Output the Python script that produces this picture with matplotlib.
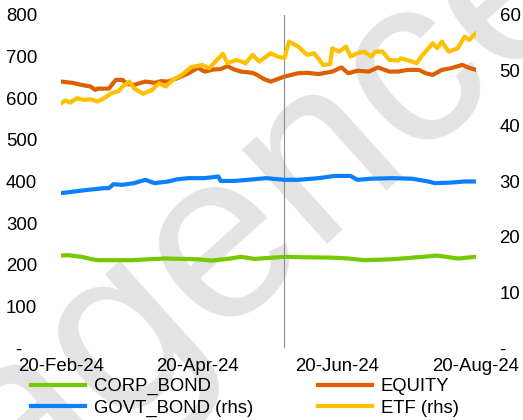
import numpy as np
import pandas as pd
import matplotlib
matplotlib.use('Agg')
import matplotlib.pyplot as plt
import matplotlib.dates as mdates

plt.rcParams['font.family'] = ['Liberation Sans', 'DejaVu Sans']

start = pd.Timestamp('2024-02-20')

# values, days counted from 20-Feb-24
equity_days = [0, 5, 9, 13, 15, 16, 21, 24, 27, 29, 32, 37, 41, 44, 47, 51, 56, 60, 63, 67, 70, 73, 76,
               79, 84, 86, 89, 92, 98, 104, 108, 113, 119, 123, 126, 130, 135, 139, 144, 148, 152, 157,
               160, 163, 167, 171, 176, 179, 182]
equity = [640, 637, 632, 628, 620, 623, 623, 644, 644, 634, 632, 640, 637, 641, 640, 648, 660, 673, 664,
          669, 670, 677, 669, 664, 661, 656, 646, 640, 652, 660, 661, 658, 664, 674, 660, 666, 664, 674,
          664, 664, 668, 668, 660, 656, 668, 672, 680, 673, 668]

corp_days = [0, 3, 9, 13, 16, 24, 31, 38, 46, 53, 60, 66, 73, 79, 85, 90, 98, 107, 119, 126, 133, 145,
             154, 165, 174, 182]
corp_bond = [222, 223, 219, 214, 211, 211, 211, 213, 215, 214, 213, 210, 214, 219, 214, 216, 219, 218,
             217, 215, 211, 213, 217, 222, 215, 219]

etf_days = [0, 2, 4, 7, 10, 13, 16, 19, 22, 25, 27, 30, 32, 36, 40, 43, 46, 49, 53, 57, 62, 65, 67, 71,
            73, 77, 81, 84, 87, 90, 92, 95, 98, 100, 104, 108, 111, 115, 118, 119, 122, 125, 127, 130,
            133, 136, 138, 141, 144, 148, 149, 154, 156, 158, 163, 165, 167, 170, 174, 177, 179, 182]
etf = [44.1, 44.6, 44.2, 45.0, 44.7, 44.8, 44.4, 45.0, 45.9, 46.2, 47.1, 48.0, 46.8, 45.8, 46.5, 47.7,
       47.1, 48.3, 49.2, 50.6, 51.0, 50.4, 51.3, 53.0, 51.3, 51.9, 51.3, 52.8, 51.6, 52.5, 53.1, 52.5,
       52.2, 55.2, 54.3, 52.8, 53.1, 51.0, 51.1, 54.0, 53.4, 54.3, 52.5, 53.1, 53.4, 52.5, 53.4, 53.4,
       51.9, 51.8, 52.2, 51.6, 51.3, 52.5, 54.9, 54.0, 55.2, 53.4, 54.0, 56.1, 55.5, 56.7]

govt_days = [0, 6, 12, 19, 21, 23, 27, 32, 37, 41, 47, 51, 56, 63, 69, 70, 76, 82, 90, 98, 104, 113,
             120, 127, 130, 136, 145, 154, 161, 164, 171, 177, 182]
govt_bond = [27.9, 28.2, 28.5, 28.8, 28.8, 29.5, 29.4, 29.7, 30.3, 29.7, 30.0, 30.4, 30.6, 30.6, 30.9,
             30.1, 30.1, 30.3, 30.6, 30.3, 30.3, 30.6, 31.0, 31.0, 30.3, 30.5, 30.6, 30.5, 30.0, 29.7,
             29.8, 30.0, 30.0]

marker_date = '2024-05-28'
xticks = ['2024-02-20', '2024-04-20', '2024-06-20', '2024-08-20']


def to_dates(days):
    return start + pd.to_timedelta(days, unit='D')


fig = plt.figure(figsize=(5.23, 4.20), dpi=100)

# watermark, behind everything
fig.text(0.51, 0.51, 'agence', fontsize=172, color='#e3e3e3', rotation=42,
         ha='center', va='center', zorder=-5)

ax = fig.add_axes([0.1166, 0.1714, 0.7935, 0.793])
ax.patch.set_visible(False)
ax2 = ax.twinx()
ax.set_zorder(1)
ax2.set_zorder(2)

l1, = ax.plot(to_dates(corp_days), corp_bond, color='#76C900', lw=3, label='CORP_BOND')
l2, = ax.plot(to_dates(equity_days), equity, color='#DD5F00', lw=3, label='EQUITY')
l3, = ax2.plot(to_dates(govt_days), govt_bond, color='#0A80FF', lw=3, label='GOVT_BOND (rhs)')
l4, = ax2.plot(to_dates(etf_days), etf, color='#FFC000', lw=3, label='ETF (rhs)')
ax.axvline(pd.Timestamp(marker_date), color='#8a8a99', lw=0.8)

ax.set_ylim(0, 800)
ax.set_yticks(range(0, 801, 100))
ax.set_yticklabels(['-   '] + [str(v) for v in range(100, 801, 100)])
ax2.set_ylim(0, 60)
ax2.set_yticks(range(0, 61, 10))
ax2.set_yticklabels(['-'] + [str(v) for v in range(10, 61, 10)])

ax.set_xlim(pd.Timestamp('2024-02-20'), pd.Timestamp('2024-08-20'))
ax.set_xticks(pd.to_datetime(xticks))
ax.xaxis.set_major_formatter(mdates.DateFormatter('%d-%b-%y'))

for a in (ax, ax2):
    for s in a.spines.values():
        s.set_visible(False)
    a.tick_params(length=0, labelsize=13.4, colors='black')
ax.tick_params(axis='y', pad=17)
ax2.tick_params(axis='y', pad=17)
ax.tick_params(axis='x', pad=7)

leg = fig.legend([l1, l3, l2, l4], [l1.get_label(), l3.get_label(), l2.get_label(), l4.get_label()],
                 ncol=2, loc='upper left', bbox_to_anchor=(0.06, 0.10), frameon=False,
                 fontsize=13.3, handlelength=2.9, handletextpad=0.5, columnspacing=3.5,
                 labelspacing=0.25, borderpad=0, borderaxespad=0)
leg.set_zorder(3)

fig.savefig('out.png', dpi=100)
